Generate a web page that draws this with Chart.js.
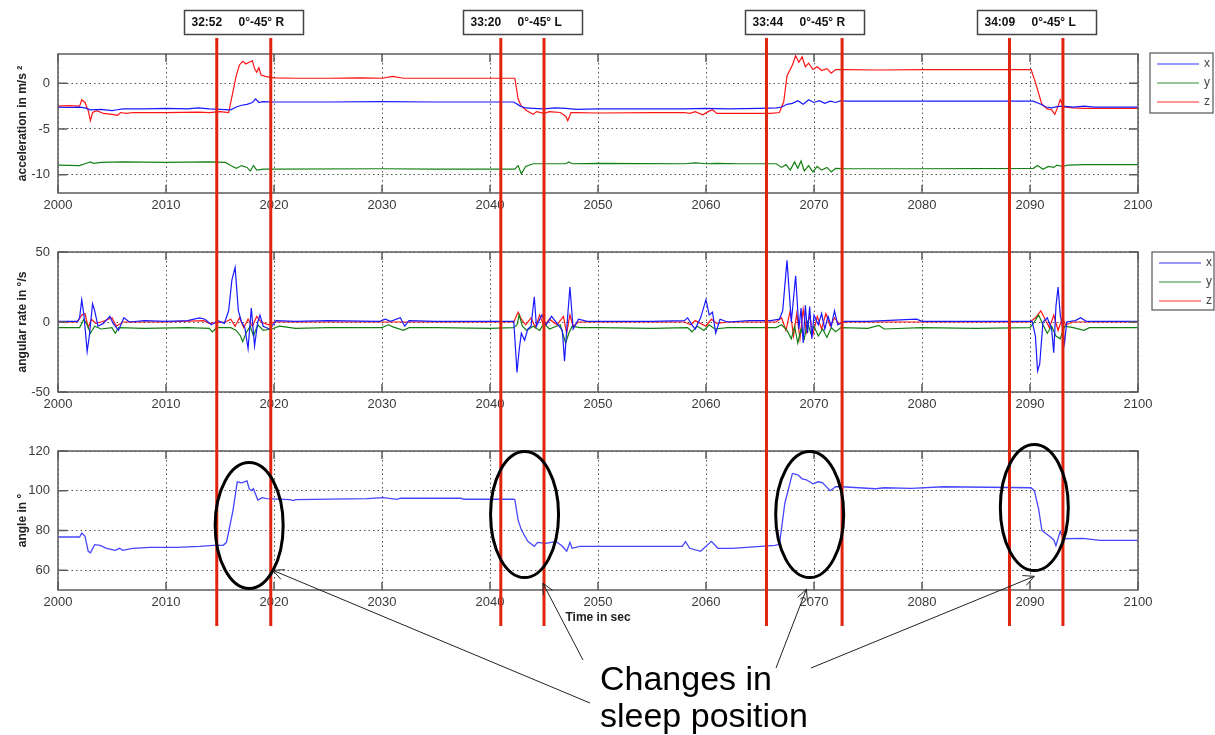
<!DOCTYPE html>
<html>
<head>
<meta charset="utf-8">
<script src="https://cdn.jsdelivr.net/npm/chart.js@4.4.1/dist/chart.umd.min.js"></script>
<style>
html, body { margin: 0; padding: 0; background: #fff; }
#wrap { position: relative; width: 1215px; height: 735px; overflow: hidden; }
canvas { position: absolute; left: 0; }
</style>
</head>
<body>
<div id="wrap">
  <canvas id="c1" style="top:0px" width="1215" height="215"></canvas>
  <canvas id="c2" style="top:215px" width="1215" height="200"></canvas>
  <canvas id="c3" style="top:415px" width="1215" height="215"></canvas>
  <canvas id="ov" style="top:0px;pointer-events:none" width="1215" height="735"></canvas>
</div>
<script>
// time axis
const timeTicks = [2000, 2010, 2020, 2030, 2040, 2050, 2060, 2070, 2080, 2090, 2100]

// acceleration in m/s^2  [time, value]
const accX = [[2000,-2.6],[2001,-2.65],[2002,-2.6],[2002.5,-2.7],[2003,-2.9],[2004,-2.85],[2005,-3.0],[2005.5,-2.9],[2006,-2.8],
  [2008,-2.8],[2010,-2.75],[2012,-2.8],[2013,-2.7],[2014,-2.8],[2015,-2.85],[2016,-2.9],[2016.5,-2.6],[2017,-2.4],[2017.5,-2.3],
  [2018,-2.1],[2018.3,-1.7],[2018.6,-2.1],[2019,-2.0],[2020,-2.05],[2025,-2.05],[2030,-2.0],[2035,-2.05],[2040,-2.05],[2042.2,-2.05],
  [2042.8,-2.5],[2043.3,-2.7],[2044,-2.75],[2045,-2.8],[2046,-2.7],[2047,-2.75],[2048,-2.85],[2050,-2.8],[2055,-2.8],[2058,-2.8],
  [2060,-2.75],[2062,-2.8],[2065,-2.75],[2066.5,-2.7],[2067,-2.6],[2067.5,-2.3],[2068,-2.2],[2068.5,-1.9],[2069,-2.3],[2069.5,-1.8],
  [2070,-2.1],[2070.5,-1.9],[2071,-2.2],[2071.5,-1.95],[2072,-2.1],[2072.5,-1.9],[2073,-1.95],[2080,-1.95],[2085,-1.95],[2090.3,-1.95],
  [2091,-2.3],[2091.5,-2.6],[2092,-2.7],[2092.5,-2.55],[2093,-2.5],[2094,-2.6],[2095,-2.5],[2096,-2.6],[2100,-2.6]]
const accY = [[2000,-8.95],[2002,-9.0],[2002.5,-8.8],[2003,-8.6],[2003.3,-8.75],[2004,-8.65],[2006,-8.6],[2010,-8.65],[2014,-8.6],
  [2015.5,-8.65],[2016,-9.0],[2016.5,-9.3],[2017,-9.0],[2017.5,-9.2],[2017.8,-9.6],[2018.1,-9.0],[2018.4,-9.5],[2019,-9.4],[2020,-9.4],
  [2030,-9.35],[2035,-9.4],[2042.3,-9.4],[2042.6,-9.0],[2042.9,-9.9],[2043.3,-9.1],[2044,-8.8],[2047,-8.8],[2047.3,-8.6],[2047.6,-8.8],
  [2050,-8.75],[2058,-8.8],[2059,-8.7],[2060,-8.8],[2061,-8.75],[2063,-8.8],[2066.5,-8.8],[2067,-9.2],[2067.4,-8.9],[2067.8,-9.5],
  [2068.2,-8.6],[2068.5,-9.3],[2068.8,-8.5],[2069.1,-9.6],[2069.5,-9.0],[2069.9,-9.7],[2070.3,-9.1],[2070.7,-9.5],[2071.2,-9.2],
  [2071.6,-9.7],[2072,-9.3],[2073,-9.35],[2080,-9.35],[2090.3,-9.3],[2090.7,-9.0],[2091.2,-9.4],[2091.7,-9.1],[2092.2,-9.2],
  [2092.5,-8.95],[2093,-9.1],[2093.5,-8.95],[2095,-8.9],[2100,-8.9]]
const accZ = [[2000,-2.5],[2001,-2.45],[2002,-2.5],[2002.2,-1.8],[2002.5,-2.1],[2002.8,-3.0],[2003,-4.1],[2003.2,-3.2],[2003.6,-3.0],
  [2004.2,-3.3],[2005,-3.4],[2005.5,-3.5],[2005.8,-3.2],[2006.3,-3.3],[2007,-3.2],[2010,-3.2],[2013,-3.15],[2014,-3.2],[2015,-3.1],
  [2015.8,-3.2],[2016.1,-1.5],[2016.5,0.8],[2016.8,2.0],[2017.1,2.4],[2017.4,2.1],[2017.7,2.3],[2018,2.45],[2018.2,1.6],[2018.4,1.2],
  [2018.6,1.7],[2018.8,0.9],[2019.2,0.75],[2020,0.6],[2022,0.55],[2025,0.55],[2028,0.6],[2030,0.55],[2031,0.75],[2032,0.55],
  [2035,0.55],[2040,0.55],[2042.3,0.55],[2042.6,-1.7],[2042.9,-2.5],[2043.4,-3.0],[2044,-3.4],[2044.3,-3.1],[2045,-3.3],[2045.5,-3.1],
  [2046.5,-3.2],[2047,-3.6],[2047.2,-4.1],[2047.5,-3.2],[2048,-3.2],[2050,-3.25],[2055,-3.2],[2058,-3.2],[2058.5,-3.3],[2059,-3.1],
  [2059.7,-3.45],[2060.2,-3.1],[2060.6,-2.9],[2061,-3.3],[2063,-3.3],[2066,-3.3],[2066.8,-3.2],[2067.2,-2.0],[2067.5,0.8],[2068,2.0],
  [2068.3,3.0],[2068.6,2.3],[2068.9,2.9],[2069.2,1.8],[2069.5,2.2],[2069.9,1.5],[2070.3,1.8],[2070.7,1.4],[2071.2,1.6],[2071.6,1.1],
  [2072,1.5],[2073,1.5],[2076,1.45],[2080,1.5],[2085,1.5],[2090.1,1.5],[2090.5,0.1],[2091.1,-2.3],[2091.6,-2.8],[2092,-2.9],
  [2092.3,-3.4],[2092.6,-2.5],[2092.8,-1.8],[2093.1,-2.6],[2094,-2.7],[2095,-2.75],[2100,-2.75]]
const accTicks = [-10, -5, 0]

// angular rate in deg/s  [time, value]
const rateX = [[2000,0.5],[2001.8,0.5],[2002,3],[2002.2,16],[2002.4,5],[2002.7,-21],[2002.9,-10],[2003.2,13],[2003.4,8],[2003.7,-3],
  [2004.2,-1],[2004.8,4],[2005.1,-1],[2005.6,-6],[2006.1,3],[2006.6,0],[2008,1],[2010,0.5],[2012,1],[2013.1,3],[2013.6,2],[2014.2,-2],
  [2014.8,1],[2015.4,-1],[2015.8,8],[2016.1,30],[2016.4,39],[2016.7,8],[2017,0],[2017.3,-4],[2017.6,-19],[2017.9,10],[2018.2,-17],
  [2018.5,0],[2018.7,5],[2019,-3],[2019.6,-5],[2020.2,1],[2022,0.5],[2025,1],[2029.8,0.5],[2030.3,2],[2030.8,0.5],[2031.7,3],
  [2032.1,-3],[2032.5,1],[2035,0.5],[2040,0.5],[2042.2,0.5],[2042.5,-36],[2042.7,-20],[2042.9,-8],[2043.2,-13],[2043.5,-5],
  [2043.8,-3],[2044.1,18],[2044.3,-3],[2044.8,5],[2045.2,-2],[2045.7,4],[2046.2,-1],[2046.7,-6],[2046.9,-28],[2047.2,5],[2047.4,25],
  [2047.7,-5],[2048.2,2],[2049,0.5],[2055,0.5],[2058,1],[2058.3,3],[2058.7,-2],[2059,-5],[2059.5,3],[2060,16],[2060.3,5],[2060.6,7],
  [2060.9,-8],[2061.3,2],[2062,0],[2064,1],[2066,1],[2066.8,2],[2067.1,8],[2067.5,44],[2067.9,0],[2068.3,33],[2068.6,-5],[2068.8,10],
  [2069,-15],[2069.2,12],[2069.4,-8],[2069.6,11],[2069.8,-12],[2070,5],[2070.4,-2],[2070.7,6],[2071,-5],[2071.3,4],[2071.6,-3],
  [2071.9,8],[2072.2,-2],[2072.8,0.5],[2075,0.5],[2079.5,2],[2080,0.5],[2085,0.5],[2090.2,0.5],[2090.5,-10],[2090.7,-35],[2090.9,-30],
  [2091.2,0],[2091.6,3],[2092,-5],[2092.2,-22],[2092.4,11],[2092.6,25],[2092.8,5],[2093,-3],[2093.2,-15],[2093.4,0],[2094.2,1],
  [2094.7,3],[2095.2,0.5],[2100,0.5]]
const rateY = [[2000,-4],[2002,-4],[2002.4,2],[2002.7,-2],[2003,-8],[2003.4,-3],[2004,-5],[2005,-4],[2005.3,-8],[2005.6,-4],[2008,-4.5],
  [2012,-4],[2014,-4.5],[2014.3,-7],[2014.7,-4],[2016,-4],[2016.5,-6],[2016.9,-10],[2017.1,-14],[2017.4,-8],[2017.8,-3],[2018.1,-10],
  [2018.5,-2],[2019,-6],[2019.8,-5],[2020.5,-3],[2022,-4.5],[2025,-4],[2030,-4],[2030.6,-2],[2031,-3.5],[2032,-6],[2032.5,-4],
  [2035,-4],[2040,-4.5],[2042.2,-4],[2042.5,-2],[2042.7,5],[2043,-3],[2043.4,-6],[2044,-3],[2044.6,-6],[2045,-1],[2045.5,-5],
  [2046.5,-2],[2047,-15],[2047.3,-8],[2047.6,-3],[2048.3,-4],[2050,-4],[2055,-4.5],[2058.3,-4],[2058.7,-7],[2059.2,-3],[2059.8,-6],
  [2060.3,-2],[2060.8,-5],[2062,-4],[2066.5,-4],[2067,-2],[2067.5,-6],[2067.9,-12],[2068.2,-3],[2068.5,-15],[2068.8,-5],[2069.1,-12],
  [2069.4,0],[2069.7,-8],[2070,-3],[2070.4,-10],[2070.8,-5],[2071.2,-11],[2071.6,-4],[2072,-7],[2072.5,-4],[2075,-4.5],[2076,-2.5],
  [2076.5,-5],[2080,-4],[2085,-4.5],[2090,-4],[2090.4,0],[2090.8,5],[2091.2,-2],[2091.6,-8],[2092,-3],[2092.4,-10],[2092.8,-12],
  [2093.2,-3],[2094,-4],[2095,-6],[2095.5,-4],[2100,-4]]
const rateZ = [[2000,0],[2001.8,0],[2002.2,5],[2002.5,6],[2002.8,-4],[2003.1,2],[2003.5,-1],[2004,0],[2005,3],[2005.4,-3],[2006,0],
  [2010,0],[2013.5,1],[2014,-1],[2015.5,0],[2016,2],[2016.4,-3],[2016.8,3],[2017.2,-4],[2017.6,2],[2018,-3],[2018.4,4],[2018.8,0],
  [2019.5,-2],[2020,0],[2030,0],[2040,0],[2042.2,0],[2042.6,7],[2042.9,2],[2043.3,-2],[2043.8,3],[2044.2,-4],[2044.6,5],[2045,-3],
  [2045.5,2],[2046.2,-2],[2046.8,4],[2047.1,-8],[2047.4,5],[2047.7,-3],[2048.2,0],[2058,0],[2058.6,-2],[2059,1],[2060,-3],[2060.5,2],
  [2061,-1],[2062,0],[2066.5,0],[2067,3],[2067.4,-6],[2067.8,8],[2068.1,-10],[2068.4,6],[2068.7,-12],[2069,9],[2069.3,-7],[2069.6,5],
  [2069.9,-9],[2070.3,4],[2070.7,-5],[2071.1,6],[2071.5,-3],[2071.9,3],[2072.3,-1],[2073,0],[2090,0],[2090.5,3],[2091,8],[2091.4,2],
  [2091.8,-4],[2092.2,5],[2092.6,-6],[2093,3],[2093.3,-2],[2094,0],[2100,0]]
const rateTicks = [-50, 0, 50]

// angle in deg  [time, value]
const angle = [[2000,76.7],[2001,76.7],[2002,76.7],[2002.2,78.7],[2002.5,77],[2002.8,69.5],[2003,68.7],[2003.4,72.8],[2003.9,72.5],
  [2004.5,71],[2005.3,70],[2005.7,71],[2006,70],[2006.9,71],[2008.5,71.5],[2011,71.5],[2013.1,72],[2014.4,72.5],[2015.3,72.5],
  [2015.6,74],[2016.2,90],[2016.6,104.5],[2017,104],[2017.5,105],[2017.7,101],[2017.9,100],[2018.1,101],[2018.5,95.3],[2018.9,96.5],
  [2019.3,96],[2021.5,95.5],[2021.8,95],[2022,95.5],[2028.6,96],[2030.1,96.5],[2031.4,95.6],[2031.7,96.2],[2037.3,96.2],[2037.6,95.7],
  [2042.2,95.7],[2042.3,95.5],[2042.6,85.3],[2042.9,80.3],[2043.5,74.5],[2044.1,72],[2044.4,74],[2045.2,73.5],[2046.1,74.5],
  [2046.7,72],[2047.1,69.5],[2047.4,74],[2047.6,71],[2048.3,72],[2053.2,72],[2057.8,72],[2058.1,74.3],[2058.5,71],[2059.5,69.5],
  [2060.5,74.5],[2061.1,71],[2062.4,71],[2066.4,72.5],[2066.8,73],[2067.3,93.7],[2068,108.7],[2068.5,108],[2068.9,106],[2069.3,105.5],
  [2069.9,103.5],[2070.4,104.5],[2070.8,104],[2071.5,100],[2072,102],[2072.6,102],[2075.7,101],[2076.5,101.5],[2079,101.2],[2082,102],
  [2090.1,101.5],[2090.4,100],[2090.8,90.7],[2091.1,80],[2091.6,78],[2092.2,75.3],[2092.4,72.3],[2092.8,79.5],[2093.1,75.8],
  [2094.9,76],[2096.5,75],[2100,75]]
const angleTicks = [60, 80, 100, 120]

// annotations: position changes (sec) and their labels
const changeLines = [2014.7, 2019.7, 2041.0, 2045.0, 2065.6, 2072.6, 2088.1, 2093.05]
const changeTimes = ['32:52', '33:20', '33:44', '34:09']
const changeTexts = ['0°-45° R', '0°-45° L', '0°-45° R', '0°-45° L']
const circleX = [2017.7, 2043.2, 2069.6, 2090.4]
const circleY = [82.5, 88, 88, 91.5]
const arrowTipX = [2019.9, 2044.9, 2069.3, 2090.4]
const arrowTipY = [59.9, 53.4, 50.4, 56.9]

const BLUE = 'rgb(25,25,255)', GREEN = 'rgb(20,128,20)', RED = 'rgb(255,20,20)'
const FONT = "'Liberation Sans', Arial, Helvetica, sans-serif"
Chart.defaults.font.family = FONT
Chart.defaults.color = '#333'

// box + inward tick marks, matlab style
const framePlugin = {
  id: 'frame',
  afterDatasetsDraw(chart) {
    const {ctx, chartArea: a, scales} = chart
    ctx.save()
    ctx.strokeStyle = '#5c5c5c'
    ctx.lineWidth = 1.5
    ctx.beginPath()
    scales.x.ticks.forEach(t => {
      const px = scales.x.getPixelForValue(t.value)
      ctx.moveTo(px, a.top); ctx.lineTo(px, a.top + 8)
      ctx.moveTo(px, a.bottom); ctx.lineTo(px, a.bottom - 8)
    })
    scales.y.ticks.forEach(t => {
      const py = scales.y.getPixelForValue(t.value)
      ctx.moveTo(a.left, py); ctx.lineTo(a.left + 9, py)
      ctx.moveTo(a.right, py); ctx.lineTo(a.right - 9, py)
    })
    ctx.stroke()
    ctx.strokeRect(a.left, a.top, a.right - a.left, a.bottom - a.top)
    ctx.restore()
  }
}

const boxLegendPlugin = {
  id: 'boxLegend',
  afterDraw(chart, args, opts) {
    if (!opts || !opts.box) return
    const ctx = chart.ctx
    const [bx, by, bw, bh] = opts.box
    ctx.save()
    ctx.fillStyle = '#fff'
    ctx.fillRect(bx, by, bw, bh)
    ctx.strokeStyle = '#555'
    ctx.lineWidth = 1.2
    ctx.strokeRect(bx, by, bw, bh)
    ctx.font = '12px ' + FONT
    ctx.textBaseline = 'middle'
    chart.data.datasets.forEach((d, i) => {
      const y = by + 11 + i * 19
      ctx.strokeStyle = d.borderColor
      ctx.globalAlpha = 0.6
      ctx.lineWidth = 1.5
      ctx.beginPath(); ctx.moveTo(bx + 7, y); ctx.lineTo(bx + 49, y); ctx.stroke()
      ctx.globalAlpha = 1
      ctx.fillStyle = '#444'
      ctx.fillText(d.label, bx + 54, y)
    })
    ctx.restore()
  }
}

function makePanel(id, cfg) {
  return new Chart(document.getElementById(id), {
    type: 'line',
    data: {
      datasets: cfg.series.map(s => ({
        label: s.label,
        data: s.points.map(([x, y]) => ({x, y})),
        borderColor: s.color,
        borderWidth: cfg.lineWidth || 1.2,
        pointRadius: 0,
        tension: 0,
        fill: false
      }))
    },
    options: {
      responsive: false,
      animation: false,
      events: [],
      layout: {padding: {top: cfg.padTop, right: 77, left: 0, bottom: 0}},
      plugins: {legend: {display: false}, tooltip: {enabled: false}, boxLegend: cfg.legend || {}},
      scales: {
        x: {
          type: 'linear', min: 2000, max: 2100,
          afterBuildTicks: s => { s.ticks = timeTicks.map(v => ({value: v})) },
          afterFit: s => { s.height = cfg.axisH },
          grid: {color: '#555', drawTicks: false, lineWidth: 1},
          border: {display: false, dash: [1.5, 3]},
          ticks: {padding: 5, font: {size: 13}, color: '#3a3a3a', maxRotation: 0, autoSkip: false, callback: v => String(v)},
          title: cfg.xTitle ? {display: true, text: cfg.xTitle, font: {size: 12, weight: 'bold'}, color: '#222', padding: {top: 0, bottom: 5}} : {display: false}
        },
        y: {
          type: 'linear', min: cfg.yMin, max: cfg.yMax,
          afterBuildTicks: s => { s.ticks = cfg.yTicks.map(v => ({value: v})) },
          afterFit: s => { s.width = 58 },
          grid: {color: '#555', drawTicks: false, lineWidth: 1},
          border: {display: false, dash: [1.5, 3]},
          ticks: {padding: 8, font: {size: 13}, color: '#3a3a3a', callback: v => String(v)},
          title: {display: true, text: cfg.yTitle, font: {size: 12, weight: 'bold'}, color: '#222', padding: {top: 15, bottom: 0}}
        }
      }
    },
    plugins: [framePlugin, boxLegendPlugin]
  })
}

const c1 = makePanel('c1', {
  padTop: 54, axisH: 22, yMin: -12, yMax: 3.2, yTicks: accTicks,
  yTitle: 'acceleration in m/s ²',
  series: [{label: 'x', points: accX, color: BLUE}, {label: 'y', points: accY, color: GREEN}, {label: 'z', points: accZ, color: RED}],
  legend: {box: [1150, 53, 63, 60]}
})
const c2 = makePanel('c2', {
  padTop: 37, axisH: 23, yMin: -50, yMax: 50, yTicks: rateTicks,
  yTitle: 'angular rate in °/s',
  series: [{label: 'x', points: rateX, color: BLUE}, {label: 'y', points: rateY, color: GREEN}, {label: 'z', points: rateZ, color: RED}],
  legend: {box: [1152, 37, 62, 58]}
})
const c3 = makePanel('c3', {
  padTop: 36, axisH: 40, yMin: 50, yMax: 120, yTicks: angleTicks,
  yTitle: 'angle in °', xTitle: 'Time in sec', lineWidth: 1.3,
  series: [{label: 'angle', points: angle, color: 'rgb(70,70,255)'}]
})

// overlay annotations on top of the three panels
const ov = document.getElementById('ov')
const o = ov.getContext('2d')
const px = v => c1.scales.x.getPixelForValue(v)
const py3 = v => c3.scales.y.getPixelForValue(v) + 415

o.strokeStyle = 'rgb(224,36,14)'
o.lineWidth = 3
changeLines.forEach(v => {
  const x = px(v)
  o.beginPath(); o.moveTo(x, 38); o.lineTo(x, 626); o.stroke()
})

for (let i = 0; i < changeTimes.length; i++) {
  const cx = (px(changeLines[2 * i]) + px(changeLines[2 * i + 1])) / 2
  const bx = Math.round(cx - 59.5) + 0.5
  o.fillStyle = '#fff'
  o.fillRect(bx, 10.5, 119, 24)
  o.strokeStyle = '#444'
  o.lineWidth = 1.5
  o.strokeRect(bx, 10.5, 119, 24)
  o.fillStyle = '#111'
  o.font = 'bold 12px ' + FONT
  o.textBaseline = 'middle'
  o.fillText(changeTimes[i], bx + 7, 23)
  o.fillText(changeTexts[i], bx + 54, 23)
}

o.strokeStyle = '#000'
o.lineWidth = 3
circleX.forEach((v, i) => {
  o.beginPath()
  o.ellipse(px(v), py3(circleY[i]), 34, 63, 0, 0, Math.PI * 2)
  o.stroke()
})

const tails = [[590, 703], [583, 660], [776, 668], [811, 668]]
o.strokeStyle = '#222'
o.lineWidth = 1
arrowTipX.forEach((v, i) => {
  const tx = px(v), ty = py3(arrowTipY[i])
  const [sx, sy] = tails[i]
  const ang = Math.atan2(ty - sy, tx - sx)
  o.beginPath()
  o.moveTo(sx, sy); o.lineTo(tx, ty)
  o.moveTo(tx - 12 * Math.cos(ang - 0.45), ty - 12 * Math.sin(ang - 0.45))
  o.lineTo(tx, ty)
  o.lineTo(tx - 12 * Math.cos(ang + 0.45), ty - 12 * Math.sin(ang + 0.45))
  o.stroke()
})

o.fillStyle = '#000'
o.font = '34px ' + FONT
o.textBaseline = 'alphabetic'
o.fillText('Changes in', 600, 690)
o.fillText('sleep position', 600, 727)
</script>
</body>
</html>
